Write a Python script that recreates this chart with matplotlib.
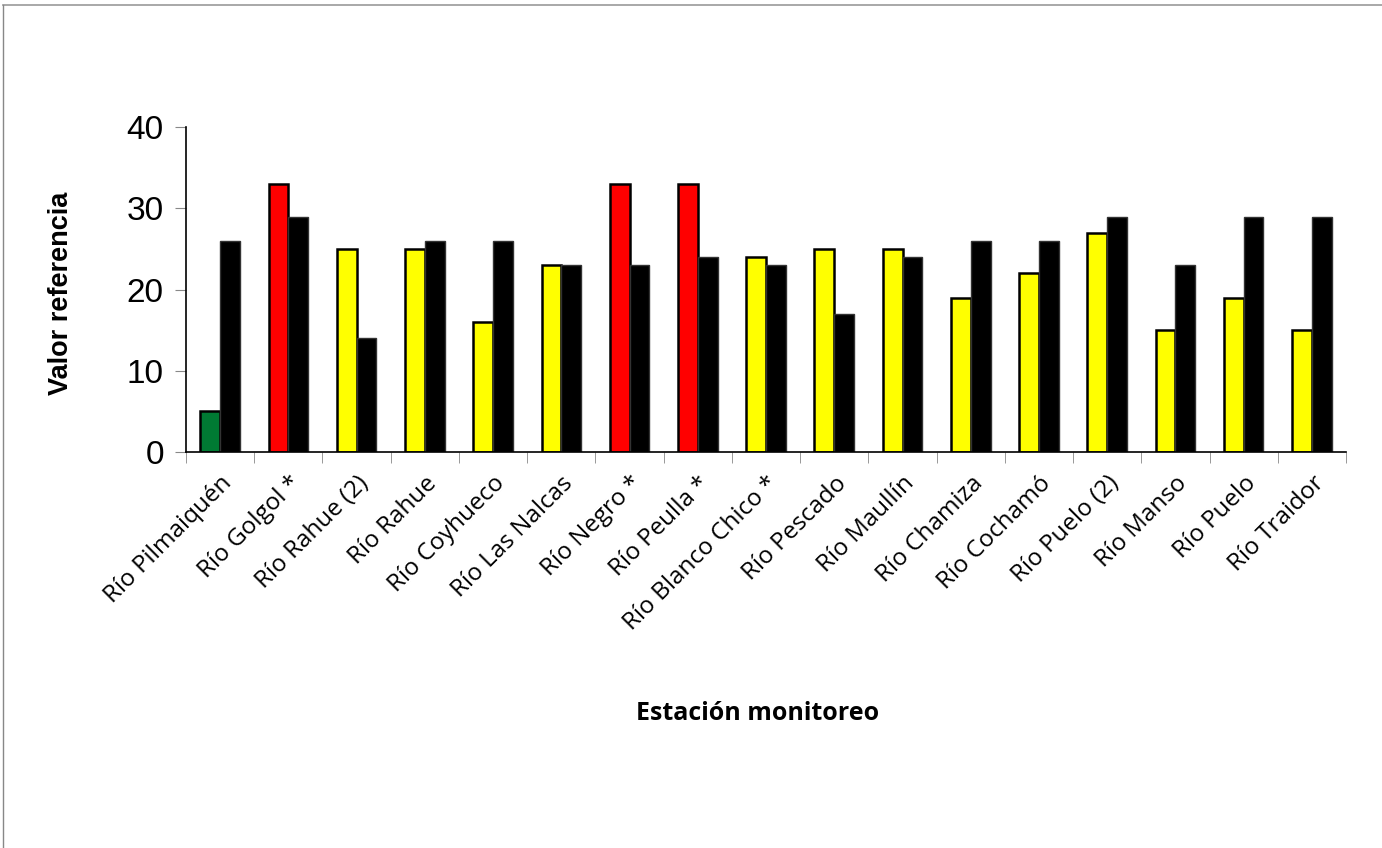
import numpy as np
import matplotlib.pyplot as plt
from matplotlib.lines import Line2D

estaciones = ['Río Pilmaiquén', 'Río Golgol *', 'Río Rahue (2)', 'Río Rahue',
              'Río Coyhueco', 'Río Las Nalcas', 'Río Negro *', 'Río Peulla *',
              'Río Blanco Chico *', 'Río Pescado', 'Río Maullín', 'Río Chamiza',
              'Río Cochamó', 'Río Puelo (2)', 'Río Manso', 'Río Puelo', 'Río Traidor']
valor_estacion = [5, 33, 25, 25, 16, 23, 33, 33, 24, 25, 25, 19, 22, 27, 15, 19, 15]
valor_referencia = [26, 29, 14, 26, 26, 23, 23, 24, 23, 17, 24, 26, 26, 29, 23, 29, 29]
# clase de calidad de cada estación
clase = ['verde', 'rojo', 'amarillo', 'amarillo', 'amarillo', 'amarillo', 'rojo', 'rojo',
         'amarillo', 'amarillo', 'amarillo', 'amarillo', 'amarillo', 'amarillo',
         'amarillo', 'amarillo', 'amarillo']
colores = {'verde': '#007A33', 'rojo': '#FF0000', 'amarillo': '#FFFF00'}

fig = plt.figure(figsize=(13.82, 8.48), dpi=100)
ax = fig.add_axes([0.1346, 0.467, 0.8394, 0.383])

x = np.arange(len(estaciones))
w = 0.29
ax.bar(x - w / 2, valor_estacion, w, color=[colores[c] for c in clase],
       edgecolor='black', linewidth=1.8)
ax.bar(x + w / 2, valor_referencia, w, color='black', edgecolor='#333333', linewidth=1)

ax.set_xlim(-0.5, len(estaciones) - 0.5)
ax.set_ylim(0, 40)
ax.set_yticks([0, 10, 20, 30, 40])
ax.tick_params(axis='y', labelsize=24, length=8, color='#888888', pad=8)
for t in ax.get_yticklabels():
    t.set_fontfamily('Liberation Sans')

ax.set_xticks(x)
ax.set_xticklabels(estaciones, rotation=45, ha='right', rotation_mode='anchor',
                   fontsize=17.5, fontfamily='Open Sans')
ax.tick_params(axis='x', which='major', length=0, pad=14)
ax.set_xticks(np.arange(len(estaciones) + 1) - 0.5, minor=True)
ax.tick_params(axis='x', which='minor', length=8, color='#888888')

for s in ['top', 'right']:
    ax.spines[s].set_visible(False)
ax.spines['left'].set_linewidth(1.2)
ax.spines['bottom'].set_linewidth(1.2)

fig.text(0.044, 0.654, 'Valor referencia', rotation=90, ha='center', va='center',
         fontsize=19.5, fontweight='bold', fontfamily='Liberation Sans')
fig.text(0.548, 0.159, 'Estación monitoreo', ha='center', va='center',
         fontsize=18, fontweight='bold', fontfamily='Open Sans')

# marco superior e izquierdo
fig.add_artist(Line2D([0.002, 1], [0.994, 0.994], color='#999999', lw=1.2))
fig.add_artist(Line2D([0.002, 0.002], [0, 0.994], color='#888888', lw=1))

fig.savefig('out.png', dpi=100)
